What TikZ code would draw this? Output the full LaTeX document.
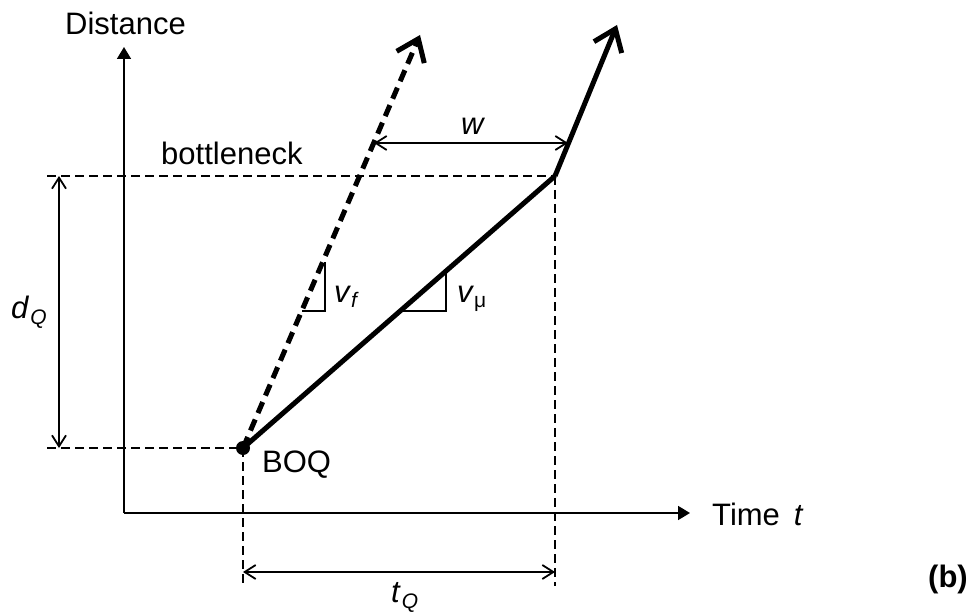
\documentclass[tikz,border=0pt]{standalone}
\usepackage{fontspec}
\setmainfont{Liberation Sans}
\usetikzlibrary{arrows.meta}
\begin{document}
\begin{tikzpicture}[x=1pt,y=-1pt,
  lbl/.style={inner sep=0pt,font=\fontsize{31}{37}\selectfont},
  axisline/.style={line width=1.8pt,-{Triangle[length=12pt,width=14pt]}},
  thindash/.style={line width=1.6pt,dash pattern=on 9pt off 5pt},
  dimline/.style={line width=1.8pt,{Straight Barb[length=11pt,width=14pt,line width=1.8pt]}-{Straight Barb[length=11pt,width=14pt,line width=1.8pt]}},
  slopeline/.style={line width=1.5pt},
  thickline/.style={line width=5pt,-{Straight Barb[length=20pt,width=30pt,line width=5pt]}},
  thickdash/.style={line width=5pt,dash pattern=on 12pt off 7pt,-{Straight Barb[length=20pt,width=30pt,line width=5pt]}}]
\newcommand{\subsz}{\fontsize{21}{24}\selectfont}
\useasboundingbox (0,0) rectangle (976,612);
% key points
\coordinate (O) at (124,513);
\coordinate (ytop) at (124,47);
\coordinate (xend) at (690,513);
\coordinate (boq) at (243,448);
\coordinate (corner) at (555,176);
\coordinate (stip) at (617,25);
\coordinate (dtip) at (420,35);
\coordinate (bl) at (47,176);
\coordinate (ql) at (47,448);
\coordinate (boqb) at (243,586);
\coordinate (cornb) at (555,586);
\coordinate (dq1) at (59,176);
\coordinate (dq2) at (59,448);
\coordinate (tq1) at (243,572);
\coordinate (tq2) at (555,572);
\coordinate (w1) at (374,143);
\coordinate (w2) at (568,143);
% axes
\draw[axisline] (O) -- (ytop);
\draw[axisline] (O) -- (xend);
% dashed guides
\draw[thindash] (bl) -- (corner);
\draw[thindash] (ql) -- (boq);
\draw[thindash] (boq) -- (boqb);
\draw[thindash] (corner) -- (cornb);
% dimension arrows
\draw[dimline] (dq1) -- (dq2);
\draw[dimline] (tq1) -- (tq2);
\draw[dimline] (w1) -- (w2);
% slope triangles
\coordinate (vf1) at (302,311);
\coordinate (vf2) at (325,311);
\coordinate (vf3) at (325,262);
\coordinate (vm1) at (400,311);
\coordinate (vm2) at (446,311);
\coordinate (vm3) at (446,272);
\draw[slopeline] (vf1) -- (vf2) -- (vf3);
\draw[slopeline] (vm1) -- (vm2) -- (vm3);
% trajectories
\draw[thickdash] (boq) -- (dtip);
\draw[line width=5pt] (boq) -- (corner);
\draw[thickline] (corner) -- (stip);
\fill (boq) circle (7);
% labels
\node[lbl,anchor=base west] (dist) at (65,35) {Distance};
\node[lbl,anchor=base west] (bn) at (161,165) {bottleneck};
\node[lbl,anchor=base west] (boqlbl) at (262,472) {BOQ};
\node[lbl,anchor=base west] (time) at (712,525) {Time\hspace{0.45em}\textit{t}};
\node[lbl,anchor=base west] (b) at (928,587) {\bfseries (b)};
\node[lbl,anchor=base west] (w) at (461,135) {\textit{w}};
\node[lbl,anchor=base west] (dq) at (11,318) {\textit{d}\raisebox{-6pt}{\subsz\hspace{1pt}\textit{Q}}};
\node[lbl,anchor=base west] (tq) at (391,602) {\textit{t}\raisebox{-6pt}{\subsz\hspace{1pt}\textit{Q}}};
\node[lbl,anchor=base west] (vf) at (334,302) {\textit{v}\raisebox{-5pt}{\subsz\textit{f}}};
\node[lbl,anchor=base west] (vm) at (457,302) {\textit{v}\raisebox{-5pt}{\subsz μ}};
\end{tikzpicture}
\end{document}
